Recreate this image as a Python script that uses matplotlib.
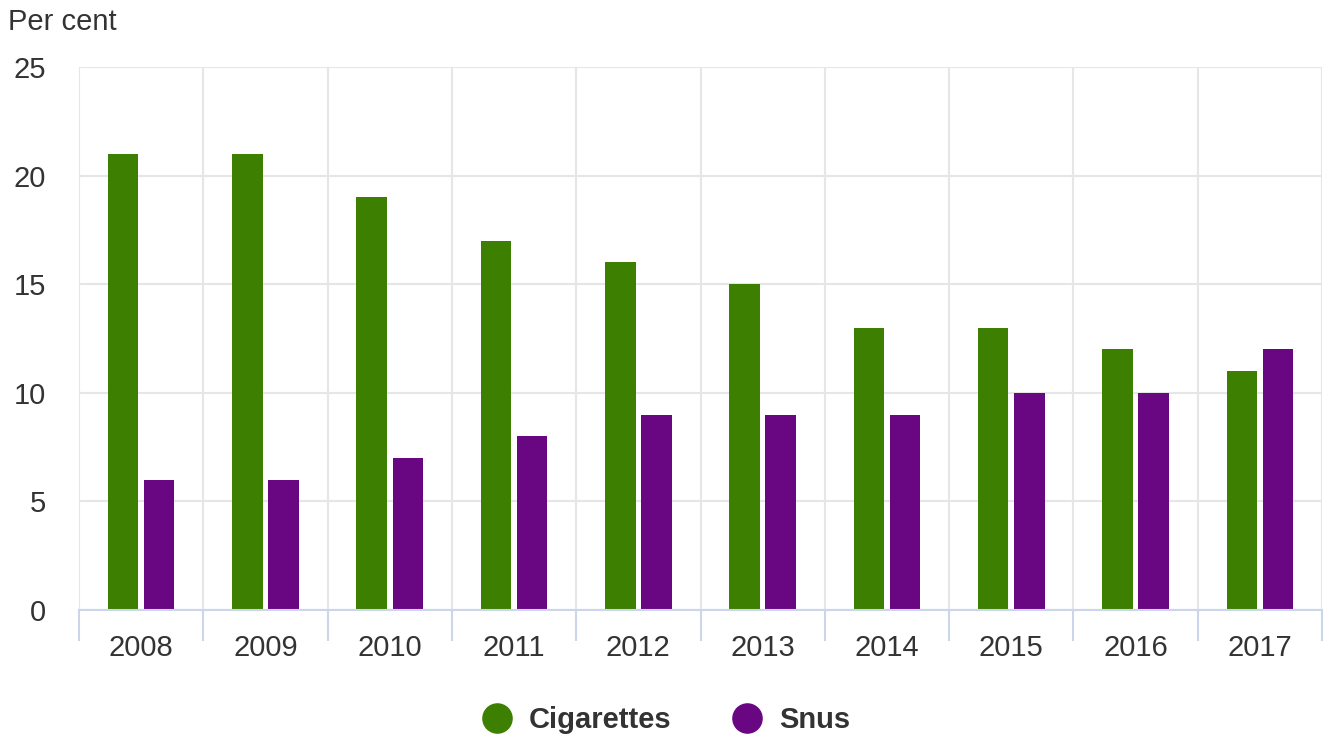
import matplotlib
matplotlib.use("Agg")
import matplotlib.pyplot as plt
from matplotlib.lines import Line2D
import numpy as np

years = ["2008", "2009", "2010", "2011", "2012", "2013", "2014", "2015", "2016", "2017"]
cigarettes = [21, 21, 19, 17, 16, 15, 13, 13, 12, 11]
snus = [6, 6, 7, 8, 9, 9, 9, 10, 10, 12]
yticks = [0, 5, 10, 15, 20, 25]

GREEN = "#3d7f00"
PURPLE = "#690682"
TXT = "#333333"

plt.rcParams["font.family"] = ["Liberation Sans", "DejaVu Sans"]

fig = plt.figure(figsize=(13.3, 7.37), dpi=100)
ax = fig.add_axes([79/1330, 1-610/737, (1322-79)/1330, (610-67)/737])

x = np.arange(len(years))
w = 0.245
off = 0.145
ax.bar(x - off, cigarettes, width=w, color=GREEN, zorder=3)
ax.bar(x + off, snus, width=w, color=PURPLE, zorder=3)

ax.set_xlim(-0.5, len(years) - 0.5)
ax.set_ylim(0, 25)

ax.set_yticks(yticks)
ax.set_yticklabels([str(v) for v in yticks], fontsize=21, color=TXT)
ax.tick_params(axis="y", length=0, pad=24)
ax.grid(axis="y", color="#e6e6e6", linewidth=1.5, zorder=0)

bounds = np.arange(len(years) + 1) - 0.5
for b in bounds:
    ax.axvline(b, color="#e6e6e6", linewidth=1.5, zorder=0)

ax.set_xticks(bounds)
ax.set_xticklabels([""] * len(bounds))
ax.tick_params(axis="x", which="major", length=22, color="#ccd6eb", width=1.5)
ax.set_xticks(x, minor=True)
ax.set_xticklabels(years, minor=True, fontsize=21, color=TXT)
ax.tick_params(axis="x", which="minor", length=0, pad=17)

for s in ["top", "right", "left"]:
    ax.spines[s].set_visible(False)
ax.spines["bottom"].set_color("#ccd6eb")
ax.spines["bottom"].set_linewidth(1.5)
ax.spines["bottom"].set_zorder(4)

fig.text(8/1330, 1-22/737, "Per cent", fontsize=21, color=TXT, va="center", ha="left")

handles = [
    Line2D([], [], marker="o", linestyle="none", markersize=21, markerfacecolor=GREEN, markeredgecolor=GREEN, label="Cigarettes"),
    Line2D([], [], marker="o", linestyle="none", markersize=21, markerfacecolor=PURPLE, markeredgecolor=PURPLE, label="Snus"),
]
leg = fig.legend(handles=handles, loc="center", bbox_to_anchor=(0.5, 1-720/737), ncol=2, frameon=False,
                 prop={"size": 21, "weight": "bold"}, handletextpad=0.5, columnspacing=2.0, handlelength=1.2)
for t in leg.get_texts():
    t.set_color(TXT)

fig.savefig("out.png", dpi=100, facecolor="white")
